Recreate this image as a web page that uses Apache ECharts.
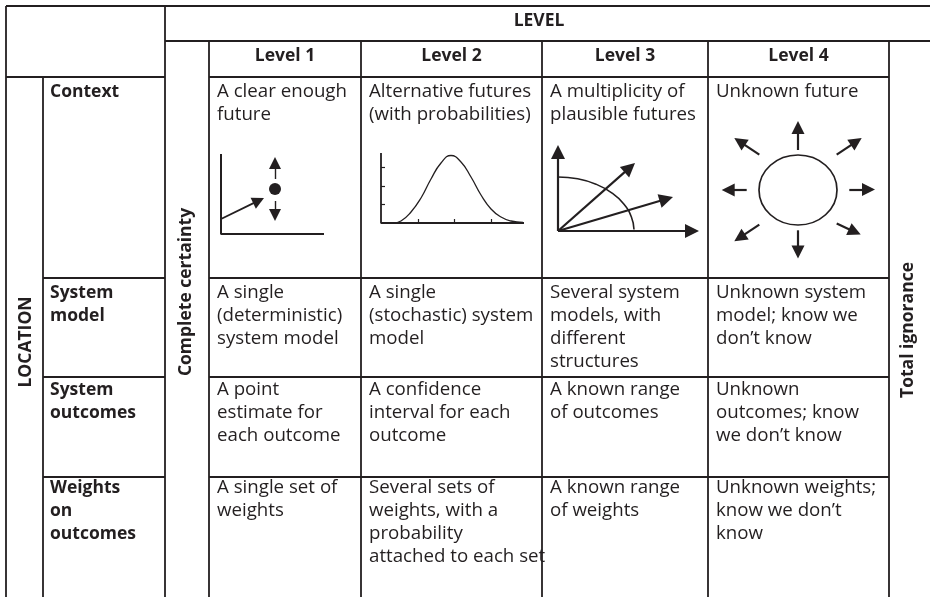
<!DOCTYPE html>
<html>
<head>
<meta charset="utf-8">
<script src="https://cdn.jsdelivr.net/npm/echarts@6/dist/echarts.min.js"></script>
<style>
  html, body { margin: 0; padding: 0; background: #fff; }
  #chart { width: 930px; height: 597px; }
</style>
</head>
<body>
<div id="chart"></div>
<script>
// ---- table content ----
const levels = ['Level 1', 'Level 2', 'Level 3', 'Level 4']
const locations = ['Context', 'System\nmodel', 'System\noutcomes', 'Weights\non\noutcomes']
const contextText = [
  'A clear enough\nfuture',
  'Alternative futures\n(with probabilities)',
  'A multiplicity of\nplausible futures',
  'Unknown future',
]
const modelText = [
  'A single\n(deterministic)\nsystem model',
  'A single\n(stochastic) system\nmodel',
  'Several system\nmodels, with\ndifferent\nstructures',
  'Unknown system\nmodel; know we\ndon\u2019t know',
]
const outcomeText = [
  'A point\nestimate for\neach outcome',
  'A confidence\ninterval for each\noutcome',
  'A known range\nof outcomes',
  'Unknown\noutcomes; know\nwe don\u2019t know',
]
const weightText = [
  'A single set of\nweights',
  'Several sets of\nweights, with a\nprobability\nattached to each set',
  'A known range\nof weights',
  'Unknown weights;\nknow we don\u2019t\nknow',
]
const levelTitle = 'LEVEL'
const locationTitle = 'LOCATION'
const lowEnd = 'Complete certainty'
const highEnd = 'Total ignorance'

// ---- little pictures in the context row (local units, y up) ----
const clearTrend = [[0, 15], [43, 36]]
const clearPoint = [54, 45]
const clearUp = [[54, 55], [54, 77]]
const clearDown = [[54, 33], [54, 13]]
const bellCurve = [
  [12, 0], [20, 2], [30, 11], [40, 25], [50, 44], [60, 60], [70, 67.5],
  [80, 61], [90, 46], [100, 28], [110, 14], [120, 6], [130, 2], [142, 0.5],
]
const bellTicksX = [37, 73.5, 110]
const bellTicksY = [18.5, 37, 55.5]
const plausibleArrows = [
  [[0, 0], [0, 86]], [[0, 0], [141, 0]], [[0, 0], [77, 68]], [[0, 0], [115, 34]],
]
const plausibleArc = [[0, 54], [19.7, 52.2], [38, 46.8], [53.7, 38.2], [65.8, 27], [73.4, 14], [76, 1.5]]
const unknownArrows = [
  [[0, 40], [0, 69]],
  [[-38.7, 35.4], [-63.7, 52]],
  [[38.7, 35.4], [63.7, 52]],
  [[-51.3, 0], [-76.3, 0]],
  [[51.3, 0.4], [77, 0.4]],
  [[-38.7, -34.6], [-63.7, -51.3]],
  [[38.7, -33.6], [62.7, -44.6]],
  [[0, -40.3], [0, -68.6]],
]
const unknownBall = [0, 0]

// ---- layout ----
const W = 930, H = 597
const COLS = [6, 43, 165, 209, 361, 542, 708, 889, 930]
const ROWS = [6, 41, 77, 278, 377, 477, 597]
const TEXT_TOP = [80.5, 281.5, 378.5, 476.5]
const INK = '#231f20'
const FONT = '"Open Sans", "Noto Sans", sans-serif'
const BODY = 18.7
const HEAD = 17.5
const LINE_H = 23

// table rules, built from the column / row edges
const rules = []
const seg = (x1, y1, x2, y2) => rules.push({ coords: [[x1, y1], [x2, y2]] })
seg(COLS[0], ROWS[0], COLS[8], ROWS[0])
seg(COLS[2], ROWS[1], COLS[8], ROWS[1])
seg(COLS[0], ROWS[2], COLS[2], ROWS[2])
seg(COLS[3], ROWS[2], COLS[7], ROWS[2])
for (let r = 3; r <= 5; r++) {
  seg(COLS[1], ROWS[r], COLS[2], ROWS[r])
  seg(COLS[3], ROWS[r], COLS[7], ROWS[r])
}
seg(COLS[0], ROWS[0], COLS[0], ROWS[6])
seg(COLS[1], ROWS[2], COLS[1], ROWS[6])
seg(COLS[2], ROWS[0], COLS[2], ROWS[6])
for (let c = 3; c <= 7; c++) seg(COLS[c], ROWS[1], COLS[c], ROWS[6])

// text labels
const labels = []
labels.push({ text: levelTitle, x: 539, y: 21, align: 'center', valign: 'middle', bold: true })
levels.forEach((t, i) => {
  labels.push({ text: t, x: (COLS[3 + i] + COLS[4 + i]) / 2, y: 56, align: 'center', valign: 'middle', bold: true })
})
labels.push({ text: locationTitle, x: 26, y: 342, align: 'center', valign: 'middle', bold: true, rotate: Math.PI / 2 })
labels.push({ text: lowEnd, x: 186, y: 292, align: 'center', valign: 'middle', bold: true, rotate: Math.PI / 2 })
labels.push({ text: highEnd, x: 908, y: 330, align: 'center', valign: 'middle', bold: true, rotate: Math.PI / 2 })
locations.forEach((t, r) => {
  labels.push({ text: t, x: COLS[1] + 7, y: TEXT_TOP[r], align: 'left', valign: 'top', bold: true })
})
;[contextText, modelText, outcomeText, weightText].forEach((row, r) => {
  row.forEach((t, c) => {
    labels.push({ text: t, x: COLS[3 + c] + 8, y: TEXT_TOP[r], align: 'left', valign: 'top', bold: false })
  })
})

// icon boxes: 1 unit = 1 px
const boxes = [
  { left: 221, top: 154, width: 103, height: 80, x: [0, 103], y: [0, 80] },
  { left: 381, top: 153, width: 143, height: 70, x: [0, 143], y: [0, 70] },
  { left: 558, top: 145, width: 141, height: 86, x: [0, 141], y: [0, 86] },
  { left: 718, top: 120, width: 160, height: 140, x: [-80, 80], y: [-70, 70] },
]

// stop the shaft half a head short so the triangle's tip lands on the tip
function arrow(from, tip, head) {
  const dx = tip[0] - from[0], dy = tip[1] - from[1]
  const len = Math.hypot(dx, dy)
  const k = (len - head / 2) / len
  return { coords: [from, [from[0] + dx * k, from[1] + dy * k]] }
}

function arrows(idx, list, head, width, lw) {
  return {
    type: 'lines', coordinateSystem: 'cartesian2d', xAxisIndex: idx, yAxisIndex: idx,
    symbol: ['none', 'triangle'], symbolSize: [width, head], clip: false,
    lineStyle: { color: INK, width: lw, opacity: 1, curveness: 0 },
    itemStyle: { color: INK, opacity: 1 },
    data: list.map((p) => arrow(p[0], p[1], head)),
  }
}

function polyline(idx, pts, lw, smooth) {
  return {
    type: 'line', xAxisIndex: idx, yAxisIndex: idx, data: pts, showSymbol: false,
    smooth: smooth || false, clip: false, lineStyle: { color: INK, width: lw },
  }
}

const chart = echarts.init(document.getElementById('chart'), null, { renderer: 'canvas' })

const grids = [{ left: 0, top: 0, width: W, height: H }].concat(
  boxes.map((b) => ({ left: b.left, top: b.top, width: b.width, height: b.height }))
)
const hiddenAxis = { type: 'value', show: false, splitLine: { show: false } }
const xAxes = [{ ...hiddenAxis, gridIndex: 0, min: 0, max: W }].concat(
  boxes.map((b, i) => ({ ...hiddenAxis, gridIndex: i + 1, min: b.x[0], max: b.x[1] }))
)
const yAxes = [{ ...hiddenAxis, gridIndex: 0, min: 0, max: H, inverse: true }].concat(
  boxes.map((b, i) => ({ ...hiddenAxis, gridIndex: i + 1, min: b.y[0], max: b.y[1] }))
)

const option = {
  backgroundColor: '#ffffff',
  animation: false,
  grid: grids,
  xAxis: xAxes,
  yAxis: yAxes,
  series: [
    // table rules
    {
      type: 'lines', coordinateSystem: 'cartesian2d', xAxisIndex: 0, yAxisIndex: 0,
      clip: false, symbol: 'none',
      lineStyle: { color: INK, width: 1.8, opacity: 1 },
      data: rules,
    },
    // all text
    {
      type: 'custom', xAxisIndex: 0, yAxisIndex: 0,
      data: labels.map((l) => [l.x, l.y]),
      renderItem: (params, api) => {
        const l = labels[params.dataIndex]
        const p = api.coord([api.value(0), api.value(1)])
        return {
          type: 'text', x: p[0], y: p[1], rotation: l.rotate || 0,
          style: {
            text: l.text, fill: INK, fontFamily: FONT,
            fontSize: l.bold ? HEAD : BODY, fontWeight: l.bold ? 'bold' : 'normal',
            align: l.align, verticalAlign: l.valign, lineHeight: LINE_H,
          },
        }
      },
    },
    // level 1: one clear future
    polyline(1, [[0, 80], [0, 0], [103, 0]], 2),
    arrows(1, [clearTrend], 12, 11, 1.8),
    arrows(1, [clearUp, clearDown], 12, 11, 1.4),
    {
      type: 'scatter', xAxisIndex: 1, yAxisIndex: 1, symbol: 'circle', symbolSize: 12,
      itemStyle: { color: INK, opacity: 1 }, data: [clearPoint],
    },
    // level 2: a bell curve
    polyline(2, [[0, 70], [0, 0], [143, 0]], 1.8),
    {
      type: 'lines', coordinateSystem: 'cartesian2d', xAxisIndex: 2, yAxisIndex: 2,
      symbol: 'none', clip: false, lineStyle: { color: INK, width: 1.2, opacity: 1 },
      data: bellTicksX.map((x) => ({ coords: [[x, 0], [x, 4]] }))
        .concat(bellTicksY.map((y) => ({ coords: [[0, y], [4, y]] }))),
    },
    polyline(2, bellCurve, 1.3, 0.5),
    // level 3: several plausible futures
    arrows(3, plausibleArrows, 14, 12, 2.2),
    polyline(3, plausibleArc, 1.6, 0.5),
    // level 4: anything can happen
    {
      type: 'scatter', xAxisIndex: 4, yAxisIndex: 4, symbol: 'circle', symbolSize: [78, 70],
      itemStyle: { color: 'rgba(0,0,0,0)', borderColor: INK, borderWidth: 1.6, opacity: 1 },
      data: [unknownBall],
    },
    arrows(4, unknownArrows, 13, 12, 2.2),
  ],
}

chart.setOption(option)
</script>
</body>
</html>
